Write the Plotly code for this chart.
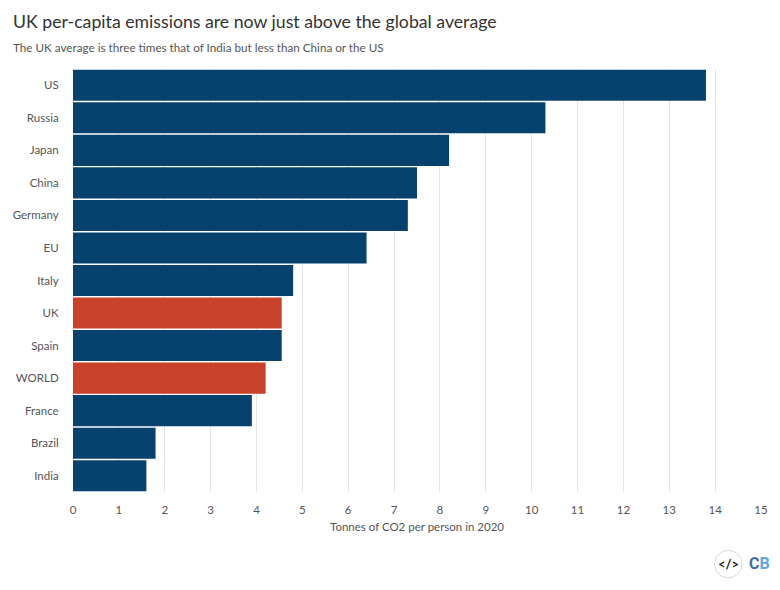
import plotly.graph_objects as go

paises = ["US", "Russia", "Japan", "China", "Germany", "EU", "Italy", "UK", "Spain", "WORLD", "France", "Brazil", "India"]
emisiones = [13.8, 10.3, 8.2, 7.5, 7.3, 6.4, 4.8, 4.55, 4.55, 4.2, 3.9, 1.8, 1.6]
destacados = ["UK", "WORLD"]
ticks_x = list(range(16))

AZUL = "#07426F"
ROJO = "#C8412A"
GRIS_TEXTO = "#555555"
FUENTE = "Lato"

# la pagina deja 8px de margen en el body, por eso 764x574
ANCHO_PLOT = 688
ALTO_PLOT = 424
IZQ = 73
BASE = 493


def px_x(v):
    return (v - IZQ) / ANCHO_PLOT


def px_y(v):
    return (BASE - v) / ALTO_PLOT


fig = go.Figure(go.Bar(
    x=emisiones, y=paises, orientation="h",
    marker_color=[ROJO if p in destacados else AZUL for p in paises],
    marker_line=dict(color="white", width=0),
    width=0.955,
))

fig.update_layout(
    width=764, height=574,
    margin=dict(l=65, r=11, t=60.5, b=89.5),
    paper_bgcolor="white", plot_bgcolor="white",
    font=dict(family=FUENTE, size=11.5, color=GRIS_TEXTO),
    showlegend=False,
)
fig.update_xaxes(
    range=[0, 15], tickvals=ticks_x, showgrid=True, gridcolor="#E4E4E4", gridwidth=1.2,
    zeroline=False, showline=False, ticks="outside", ticklen=7, tickcolor="rgba(0,0,0,0)",
    automargin=False,
    title=dict(text="Tonnes of CO2 per person in 2020", font=dict(size=11.5), standoff=8),
)
fig.update_yaxes(
    categoryorder="array", categoryarray=paises[::-1], range=[-0.5, 12.5],
    showgrid=False, zeroline=False, showline=False, ticks="outside",
    ticklen=11, tickcolor="rgba(0,0,0,0)", automargin=False,
)

# titulo y subtitulo
fig.add_annotation(text="UK per-capita emissions are now just above the global average",
                   xref="paper", yref="paper", x=px_x(11), y=px_y(21), xanchor="left", yanchor="middle",
                   showarrow=False, font=dict(size=17.7, color="#333333"))
fig.add_annotation(text="The UK average is three times that of India but less than China or the US",
                   xref="paper", yref="paper", x=px_x(11), y=px_y(47), xanchor="left", yanchor="middle",
                   showarrow=False, font=dict(size=11.7, color=GRIS_TEXTO))

# logo
fig.add_shape(type="circle", xref="paper", yref="paper", x0=px_x(714.5), x1=px_x(742),
              y0=px_y(579), y1=px_y(551.5), line=dict(color="#DDD5D5", width=1), fillcolor="white")
fig.add_annotation(text="<b>&lt;/&gt;</b>", xref="paper", yref="paper", x=px_x(728), y=px_y(565),
                   xanchor="center", yanchor="middle", showarrow=False,
                   font=dict(size=13, color="#222222"))
fig.add_annotation(text="<b><span style='color:#3F6F9F'>C</span><span style='color:#5FA8DC'>B</span></b>",
                   xref="paper", yref="paper", x=px_x(759.5), y=px_y(565),
                   xanchor="center", yanchor="middle", showarrow=False,
                   font=dict(family="Roboto", size=16))

fig.write_html("out.html")
